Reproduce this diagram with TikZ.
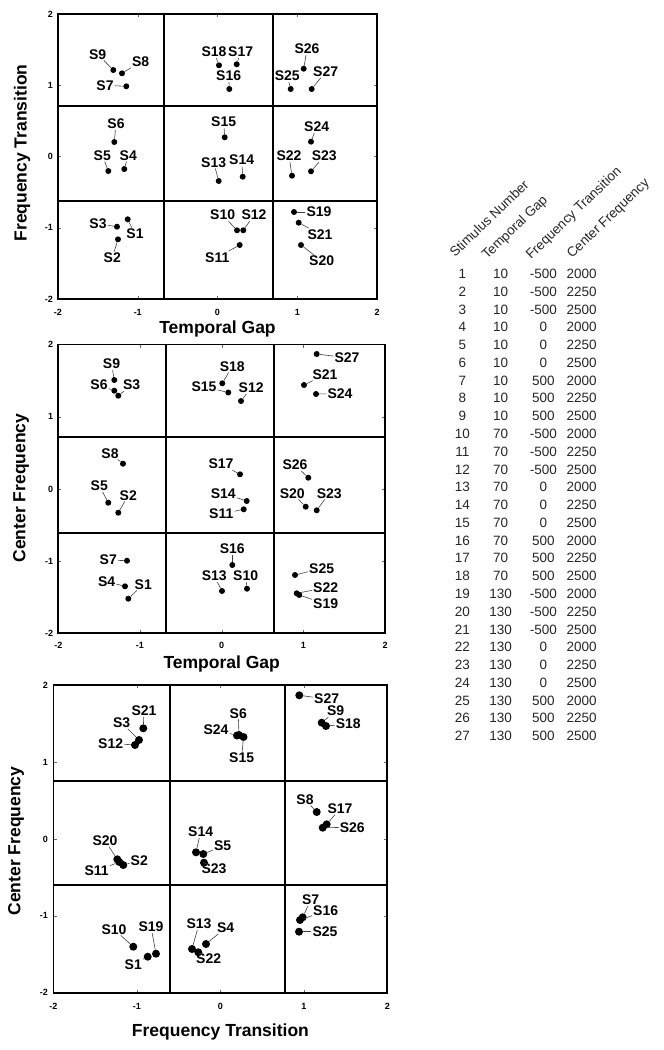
\documentclass[tikz,border=0pt]{standalone}
\usepackage{fontspec}
\setmainfont{Liberation Sans}
\begin{document}
\begin{tikzpicture}[x=1pt,y=-1pt,
  dot/.style={circle,fill=black,inner sep=0pt,minimum size=6pt},
  bigdot/.style={circle,fill=black,inner sep=0pt,minimum size=8pt},
  lab/.style={font=\fontsize{14}{14}\bfseries\selectfont,inner sep=1pt},
  lead/.style={draw=black!75,line width=0.6pt},
  frame/.style={line width=1.8pt},
  gridline/.style={line width=1.8pt},
  tickmark/.style={line width=0.4pt,black!60},
  ticklab/.style={font=\fontsize{9}{9}\bfseries\selectfont,inner sep=0pt},
  axtitle/.style={font=\fontsize{17.5}{17.5}\bfseries\selectfont,inner sep=0pt},
  tab/.style={font=\fontsize{13.5}{13.5}\selectfont,text=black!85,inner sep=0pt},
  tabhead/.style={font=\fontsize{13.5}{13.5}\selectfont,text=black!85,inner sep=0pt,rotate=44,anchor=base west}]
\useasboundingbox (0,0) rectangle (664,1050);
\newcommand\stimpt[7]{%
  \node[#7] (#1) at (#2,#3) {};
  \node[lab] (#1l) at (#4,#5) {#6};
  \draw[lead] (#1l) -- (#1);}
% ================= TOP PLOT =================
\draw[gridline] (164,14) -- (164,299) (272.7,14) -- (272.7,299)
  (58,106) -- (377,106) (58,201) -- (377,201);
\foreach \xx in {137.75,217.5,297.25}{\draw[tickmark] (\xx,299) -- (\xx,296) (\xx,14) -- (\xx,17);}
\foreach \yy in {85.25,156.5,227.75}{\draw[tickmark] (58,\yy) -- (61,\yy) (377,\yy) -- (374,\yy);}
\draw[frame] (58,14) rectangle (377,299);
\foreach \yy/\t in {14/2,85.25/1,156.5/0,227.75/-1,299/-2}{\node[ticklab,anchor=east] (ay\t) at (53,\yy) {\t};}
\foreach \xx/\t in {58/-2,137.75/-1,217.5/0,297.25/1,377/2}{\node[ticklab] (ax\t) at (\xx,312) {\t};}
\node[axtitle] (atx) at (217.5,329) {Temporal Gap};
\node[axtitle,rotate=90] (aty) at (22,153) {Frequency Transition};
\stimpt{a9}{113.3}{70}{97.7}{54.3}{S9}{dot}
\stimpt{a8}{122}{73.3}{140.7}{61.7}{S8}{dot}
\stimpt{a7}{126.3}{86.3}{105}{85.3}{S7}{dot}
\stimpt{a18}{219}{65.3}{214}{51.7}{S18}{dot}
\stimpt{a17}{236.7}{64.3}{240.7}{51.7}{S17}{dot}
\stimpt{a16}{229.3}{89}{228.7}{76}{S16}{dot}
\stimpt{a26}{303.7}{68.7}{307}{49}{S26}{dot}
\stimpt{a25}{290.7}{89}{287.3}{76}{S25}{dot}
\stimpt{a27}{311.7}{89}{325.7}{71.7}{S27}{dot}
\stimpt{a6}{114.3}{142}{116}{123.7}{S6}{dot}
\stimpt{a5}{108.3}{171}{102.3}{155.3}{S5}{dot}
\stimpt{a4}{124.3}{169}{128.3}{155.3}{S4}{dot}
\stimpt{a15}{224.7}{137.3}{223.7}{122}{S15}{dot}
\stimpt{a13}{218.7}{181}{213.7}{162.3}{S13}{dot}
\stimpt{a14}{242.7}{176.7}{241.7}{160}{S14}{dot}
\stimpt{a24}{311}{141.7}{316.7}{126.7}{S24}{dot}
\stimpt{a22}{292}{175.7}{289}{156}{S22}{dot}
\stimpt{a23}{311}{171.3}{324.3}{156}{S23}{dot}
\stimpt{a3}{117}{226.7}{98}{223.7}{S3}{dot}
\stimpt{a1}{127.7}{219.3}{135}{234}{S1}{dot}
\stimpt{a2}{118}{239.3}{112.3}{257.7}{S2}{dot}
\stimpt{a10}{237}{230.3}{222.7}{215}{S10}{dot}
\stimpt{a12}{243.3}{230.3}{254}{215}{S12}{dot}
\stimpt{a11}{239.7}{245}{217.3}{257.3}{S11}{dot}
\stimpt{a19}{294}{212}{319}{212}{S19}{dot}
\stimpt{a21}{298.7}{222.7}{320}{234.3}{S21}{dot}
\stimpt{a20}{301}{245}{321.7}{261}{S20}{dot}
% ================= MIDDLE PLOT =================
\draw[gridline] (166,344.5) -- (166,633.3) (273.7,344.5) -- (273.7,633.3)
  (58.3,436.7) -- (385,436.7) (58.3,532.7) -- (385,532.7);
\foreach \xx in {140,221.7,303.3}{\draw[tickmark] (\xx,633.3) -- (\xx,630.3) (\xx,344.5) -- (\xx,347.5);}
\foreach \yy in {416.7,488.9,561.1}{\draw[tickmark] (58.3,\yy) -- (61.3,\yy) (385,\yy) -- (382,\yy);}
\draw[frame] (58.3,344.5) rectangle (385,633.3);
\foreach \yy/\t in {344.5/2,416.7/1,488.9/0,561.1/-1,633.3/-2}{\node[ticklab,anchor=east] (by\t) at (53.3,\yy) {\t};}
\foreach \xx/\t in {58.3/-2,140/-1,221.7/0,303.3/1,385/2}{\node[ticklab] (bx\t) at (\xx,645.5) {\t};}
\node[axtitle] (btx) at (221.7,664) {Temporal Gap};
\node[axtitle,rotate=90] (bty) at (21,488) {Center Frequency};
\stimpt{b9}{114.3}{380}{111.5}{364}{S9}{dot}
\stimpt{b6}{114.3}{390.7}{99}{385}{S6}{dot}
\stimpt{b3}{118.3}{395.7}{131.7}{385}{S3}{dot}
\stimpt{b18}{222.3}{383.3}{232.3}{366.5}{S18}{dot}
\stimpt{b15}{228.3}{392.5}{204}{386.5}{S15}{dot}
\stimpt{b12}{241}{401}{251.2}{387.7}{S12}{dot}
\stimpt{b27}{316.7}{354}{347}{357.8}{S27}{dot}
\stimpt{b21}{304}{385}{325}{374.5}{S21}{dot}
\stimpt{b24}{316}{394}{340}{393.6}{S24}{dot}
\stimpt{b8}{123}{463.7}{110}{453.3}{S8}{dot}
\stimpt{b5}{108.3}{502.7}{99.3}{485.7}{S5}{dot}
\stimpt{b2}{118.3}{512.7}{128.3}{495.3}{S2}{dot}
\stimpt{b17}{240}{474.3}{221}{464}{S17}{dot}
\stimpt{b14}{246.7}{501}{223.3}{493.3}{S14}{dot}
\stimpt{b11}{243.7}{509.3}{221.3}{514}{S11}{dot}
\stimpt{b26}{308.3}{477.7}{295}{465}{S26}{dot}
\stimpt{b20}{305.7}{506.7}{292.3}{493.3}{S20}{dot}
\stimpt{b23}{316.7}{510.3}{329.3}{493.3}{S23}{dot}
\stimpt{b7}{127}{560.7}{108.3}{560}{S7}{dot}
\stimpt{b4}{125}{586.3}{106.7}{581.7}{S4}{dot}
\stimpt{b1}{128.3}{598.7}{143.3}{584.3}{S1}{dot}
\stimpt{b16}{232.3}{565}{232.3}{549}{S16}{dot}
\stimpt{b13}{222}{591}{214.3}{576}{S13}{dot}
\stimpt{b10}{247}{588.7}{245.7}{576}{S10}{dot}
\stimpt{b25}{295}{575}{321.7}{568.3}{S25}{dot}
\stimpt{b22}{296.7}{593.3}{325.7}{587.7}{S22}{dot}
\stimpt{b19}{299.3}{595}{325.7}{604}{S19}{dot}
% ================= BOTTOM PLOT =================
\draw[gridline] (170,685) -- (170,992.7) (285.3,685) -- (285.3,992.7)
  (53.5,781.2) -- (387.3,781.2) (53.5,885) -- (387.3,885);
\foreach \xx in {136.9,220.4,303.8}{\draw[tickmark] (\xx,992.7) -- (\xx,989.7) (\xx,685) -- (\xx,688);}
\foreach \yy in {761.9,838.9,915.8}{\draw[tickmark] (53.5,\yy) -- (56.5,\yy) (387.3,\yy) -- (384.3,\yy);}
\draw[frame] (53.5,685) rectangle (387.3,992.7);
\foreach \yy/\t in {685/2,761.9/1,838.9/0,915.8/-1,992.7/-2}{\node[ticklab,anchor=east] (cy\t) at (48,\yy) {\t};}
\foreach \xx/\t in {53.5/-2,136.9/-1,220.4/0,303.8/1,387.3/2}{\node[ticklab] (cx\t) at (\xx,1006.7) {\t};}
\node[axtitle] (ctx) at (220.4,1031.7) {Frequency Transition};
\node[axtitle,rotate=90] (cty) at (16,841) {Center Frequency};
\stimpt{c21}{143.3}{728.3}{144}{710.7}{S21}{bigdot}
\stimpt{c3}{139}{740}{121.7}{722.7}{S3}{bigdot}
\stimpt{c12}{135}{745}{110.7}{743.3}{S12}{bigdot}
\stimpt{c6}{239}{735}{238.3}{713.3}{S6}{bigdot}
\stimpt{c24}{237}{735.5}{216}{730}{S24}{bigdot}
\stimpt{c15}{243.5}{737}{241.7}{757.7}{S15}{bigdot}
\stimpt{c27}{299.3}{695.3}{326.7}{699}{S27}{bigdot}
\stimpt{c9}{321.7}{722.7}{335.7}{711}{S9}{bigdot}
\stimpt{c18}{326}{726}{348.3}{724}{S18}{bigdot}
\stimpt{c20}{117.3}{859.3}{105}{840.7}{S20}{bigdot}
\stimpt{c11}{119.3}{862}{96.7}{870.7}{S11}{bigdot}
\stimpt{c2}{123.3}{865}{139.3}{860.7}{S2}{bigdot}
\stimpt{c14}{196}{852.3}{200.7}{831.7}{S14}{bigdot}
\stimpt{c5}{203.3}{854}{222.7}{846}{S5}{bigdot}
\stimpt{c23}{204}{862.7}{214}{868.3}{S23}{bigdot}
\stimpt{c8}{316.7}{812}{305}{799.3}{S8}{bigdot}
\stimpt{c17}{326.7}{824.3}{340}{808.7}{S17}{bigdot}
\stimpt{c26}{322.7}{827.7}{352.3}{827.3}{S26}{bigdot}
\stimpt{c10}{133.3}{946.7}{114}{929.3}{S10}{bigdot}
\stimpt{c19}{156}{953.7}{151}{927}{S19}{bigdot}
\stimpt{c1}{147.7}{956.7}{133.3}{964.3}{S1}{bigdot}
\stimpt{c13}{192}{949}{199}{924}{S13}{bigdot}
\stimpt{c22}{198.3}{952.3}{208.7}{959}{S22}{bigdot}
\stimpt{c4}{206}{944}{225.7}{927.7}{S4}{bigdot}
\stimpt{c7}{302.7}{917.3}{310.7}{900}{S7}{bigdot}
\stimpt{c16}{300}{920}{325.7}{910.7}{S16}{bigdot}
\stimpt{c25}{299}{931.7}{325}{931.7}{S25}{bigdot}
% ================= TABLE =================
\node[tabhead] (h1) at (455,258) {Stimulus Number};
\node[tabhead] (h2) at (487,260) {Temporal Gap};
\node[tabhead] (h3) at (531,260) {Frequency Transition};
\node[tabhead] (h4) at (572,259) {Center Frequency};
\foreach \n/\g/\f/\c in {1/10/-500/2000,2/10/-500/2250,3/10/-500/2500,4/10/0/2000,5/10/0/2250,6/10/0/2500,7/10/500/2000,8/10/500/2250,9/10/500/2500,
  10/70/-500/2000,11/70/-500/2250,12/70/-500/2500,13/70/0/2000,14/70/0/2250,15/70/0/2500,16/70/500/2000,17/70/500/2250,18/70/500/2500,
  19/130/-500/2000,20/130/-500/2250,21/130/-500/2500,22/130/0/2000,23/130/0/2250,24/130/0/2500,25/130/500/2000,26/130/500/2250,27/130/500/2500}{
  \pgfmathsetmacro\ry{273.8+(\n-1)*17.78}
  \node[tab] (tn\n) at (462.3,\ry) {\n};
  \node[tab] (tg\n) at (500.7,\ry) {\g};
  \node[tab] (tf\n) at (543.3,\ry) {\f};
  \node[tab] (tc\n) at (581.7,\ry) {\c};
}
\end{tikzpicture}
\end{document}
